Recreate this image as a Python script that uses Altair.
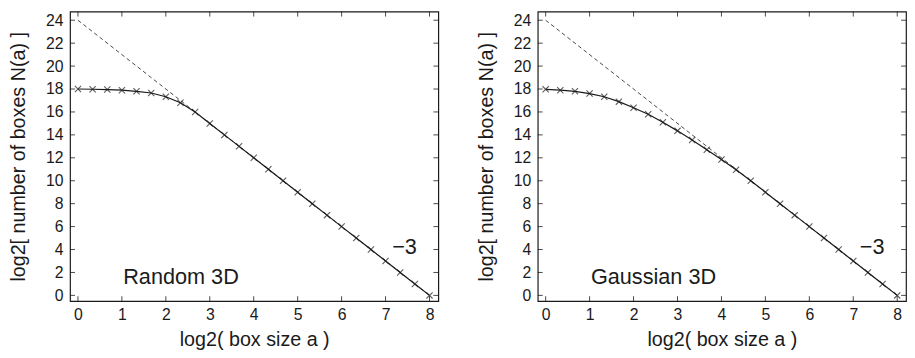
import altair as alt
import pandas as pd

# ---- data ----
box_size = [0, 0.333, 0.667, 1, 1.333, 1.667, 2, 2.333, 2.667, 3, 3.333, 3.667,
            4, 4.333, 4.667, 5, 5.333, 5.667, 6, 6.333, 6.667, 7, 7.333, 7.667, 8]
random_n = [18.0, 17.98, 17.95, 17.9, 17.8, 17.65, 17.33, 16.8, 16, 15, 14, 13,
            12, 11, 10, 9, 8, 7, 6, 5, 4, 3, 2, 1, 0]
gauss_n = [17.97, 17.9, 17.8, 17.6, 17.33, 16.9, 16.37, 15.8, 15.1, 14.35, 13.55, 12.7,
           11.85, 10.95, 10, 9, 8, 7, 6, 5, 4, 3, 2, 1, 0]
fit_x = [0, 8]
fit_y = [24, 0]
panel_labels = ["Random 3D", "Gaussian 3D"]
slope_label = "\u22123"
x_ticks = [0, 1, 2, 3, 4, 5, 6, 7, 8]
y_ticks = [0, 2, 4, 6, 8, 10, 12, 14, 16, 18, 20, 22, 24]

W, H = 374, 294
FONT = "Liberation Sans"
INK = "#1a1a1a"
TICK = 5

xs = alt.Scale(domain=[-0.18, 8.2], nice=False, zero=False)
ys = alt.Scale(domain=[-0.5, 24.75], nice=False, zero=False)
X = alt.X("x:Q", scale=xs, axis=alt.Axis(title="log2( box size a )", values=x_ticks))
Y = alt.Y("y:Q", scale=ys, axis=alt.Axis(title="log2[ number of boxes N(a) ]", values=y_ticks))


def panel(yvals, label):
    curve = pd.DataFrame({"x": box_size, "y": yvals})
    fit = pd.DataFrame({"x": fit_x, "y": fit_y})
    xt = pd.DataFrame({"x": x_ticks})
    yt = pd.DataFrame({"y": y_ticks})
    txt = pd.DataFrame({"x": [1.03, 7.15], "y": [1.6, 4.2], "t": [label, slope_label]})

    dashed = alt.Chart(fit).mark_line(color=INK, strokeWidth=0.8, strokeDash=[4, 3]).encode(
        x=X, y=Y)
    line = alt.Chart(curve).mark_line(color=INK, strokeWidth=1.2).encode(x=X, y=Y)
    pts = alt.Chart(curve).mark_point(
        shape="M-1,-1L1,1M-1,1L1,-1", filled=False, color=INK, size=40, strokeWidth=1.1
    ).encode(x=X, y=Y)

    top_t = alt.Chart(xt).mark_rule(color=INK, strokeWidth=0.8).encode(
        x=X, y=alt.value(0), y2=alt.value(TICK))
    bot_t = alt.Chart(xt).mark_rule(color=INK, strokeWidth=0.8).encode(
        x=X, y=alt.value(H), y2=alt.value(H - TICK))
    left_t = alt.Chart(yt).mark_rule(color=INK, strokeWidth=0.8).encode(
        y=Y, x=alt.value(0), x2=alt.value(TICK))
    right_t = alt.Chart(yt).mark_rule(color=INK, strokeWidth=0.8).encode(
        y=Y, x=alt.value(W), x2=alt.value(W - TICK))

    text = alt.Chart(txt).mark_text(
        align="left", baseline="middle", font=FONT, fontSize=22, color=INK
    ).encode(x=X, y=Y, text="t:N")

    return alt.layer(dashed, line, pts, top_t, bot_t, left_t, right_t, text).properties(
        width=W, height=H)


chart = alt.hconcat(panel(random_n, panel_labels[0]), panel(gauss_n, panel_labels[1]),
                    spacing=37).properties(
    padding={"left": 0, "top": 0, "right": 0, "bottom": 0}
).configure_view(
    stroke=INK, strokeWidth=1.2
).configure_axis(
    grid=False, ticks=False, domain=False,
    labelFont=FONT, labelFontSize=16, labelColor=INK,
    titleFont=FONT, titleFontSize=20, titleColor=INK, titleFontWeight="normal",
).configure_axisX(
    labelPadding=6, titlePadding=7
).configure_axisY(
    labelPadding=7, titlePadding=17
)

chart.save("out.html", embed_options={"renderer": "svg", "actions": False})
